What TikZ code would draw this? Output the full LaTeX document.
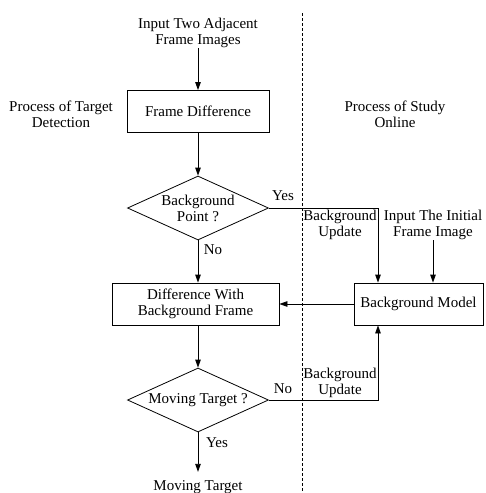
\documentclass[tikz,border=0pt]{standalone}
\usepackage{fontspec}
\setmainfont{Liberation Serif}
\usetikzlibrary{shapes.geometric,arrows.meta}
\begin{document}
\begin{tikzpicture}[x=1pt,y=-1pt,
  font=\fontsize{15}{16}\selectfont,
  every node/.style={align=center},
  box/.style={draw,line width=0.8pt,minimum width=142pt,minimum height=42pt,inner sep=0pt},
  dia/.style={draw,line width=0.8pt,diamond,minimum width=141pt,minimum height=64pt,inner sep=0pt},
  txt/.style={inner sep=0pt},
  arr/.style={line width=0.8pt,-{Triangle[length=8pt,width=5.5pt]}},
  ln/.style={line width=0.8pt}]
\useasboundingbox (0,0) rectangle (486,493);
% separator
\draw[line width=0.7pt,dash pattern=on 3pt off 2pt] (302,13) -- (302,493);
% texts
\node[txt] (inp) at (198,33) {Input Two Adjacent\\Frame Images};
\node[txt] (ptd) at (61,114) {Process of Target\\Detection};
\node[txt] (pso) at (395,114) {Process of Study\\Online};
\node[txt] (ii) at (433,225) {Input The Initial\\Frame Image};
\node[txt] (bu1) at (340,225) {Background\\Update};
\node[txt] (bu2) at (340,383) {Background\\Update};
% boxes
\node[box] (fd) at (198,111.5) {Frame Difference};
\node[dia] (d1) at (198,208) {};
\node[txt] (d1t) at (198,208) {Background\\Point ?};
\node[box,minimum width=167pt] (diff) at (195.5,304) {Difference With\\Background Frame};
\node[box,minimum width=129pt] (bm) at (418.5,304) {Background Model};
\node[dia] (d2) at (198,400) {};
\node[txt] (d2t) at (198,400) {Moving Target ?};
\node[anchor=base,inner xsep=0pt,inner ysep=8pt] (out) at (198,490) {Moving Target};
% labels
\node[txt] (y1) at (283,196) {Yes};
\node[txt] (n1) at (213,250) {No};
\node[txt] (n2) at (283,389) {No};
\node[txt] (y2) at (217,443) {Yes};
% connectors
\coordinate (k1) at (378,208);
\coordinate (k2) at (378,400);
\draw[arr] (inp.south) -- (fd.north);
\draw[arr] (fd.south) -- (d1.north);
\draw[arr] (d1.east) -- (k1) -- (k1 |- bm.north);
\draw[arr] (ii.south) -- (ii.south |- bm.north);
\draw[arr] (bm.west) -- (diff.east);
\draw[arr] (d1.south) -- (d1.south |- diff.north);
\draw[arr] (diff.south -| d2.north) -- (d2.north);
\draw[arr] (d2.east) -- (k2) -- (k2 |- bm.south);
\draw[arr] (d2.south) -- (out.north);
\end{tikzpicture}
\end{document}
